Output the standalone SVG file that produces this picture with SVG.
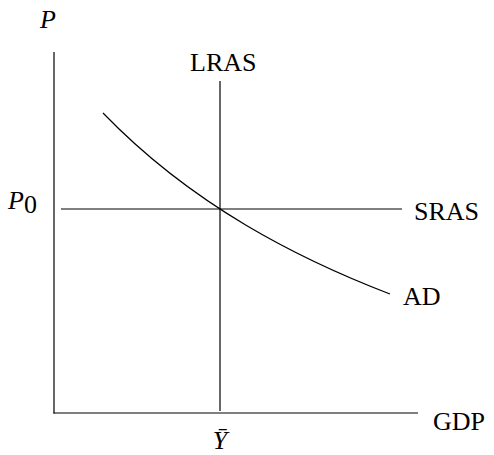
<svg xmlns="http://www.w3.org/2000/svg" width="494" height="455" viewBox="0 0 494 455">
<style>
.ln{stroke:#000;stroke-width:1.2;fill:none}
.t{font-family:"Liberation Serif","DejaVu Serif",serif;font-size:26px;fill:#000}
.i{font-style:italic}
</style>
<rect width="494" height="455" fill="#fff"/>
<g id="connectors">
<line class="ln" x1="54" y1="52" x2="54" y2="413.6"/>
<line class="ln" x1="53.4" y1="413" x2="418" y2="413"/>
<line id="lras-line" class="ln" x1="220" y1="81" x2="220" y2="411"/>
<line id="sras-line" class="ln" x1="61" y1="209" x2="402" y2="209"/>
<path id="ad-curve" class="ln" d="M103,113 C193,206.2 300,259.4 390,294"/>
</g>
<g id="axis-p"><text class="t i" x="40" y="28">P</text></g>
<g id="lras"><text class="t" x="190" y="71">LRAS</text></g>
<g id="p0"><text class="t i" x="8" y="209">P<tspan class="t" font-style="normal" font-size="18" dy="4">0</tspan></text></g>
<g id="sras"><text class="t" x="414" y="220">SRAS</text></g>
<g id="ad"><text class="t" x="403" y="305">AD</text></g>
<g id="gdp"><text class="t" x="433" y="430">GDP</text></g>
<g id="ybar"><text class="t i" x="220" y="449" font-size="25" text-anchor="middle">Ȳ</text></g>
</svg>
